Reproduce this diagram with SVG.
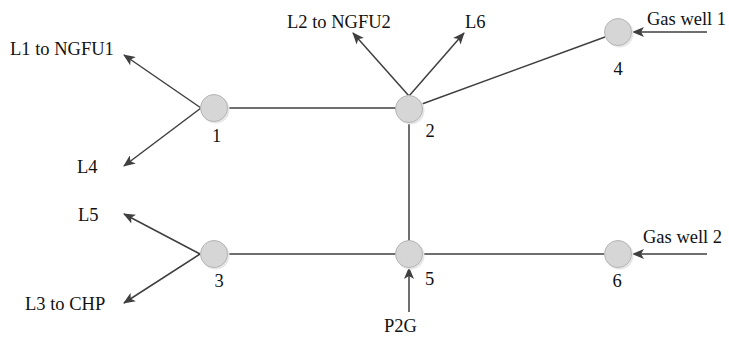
<svg xmlns="http://www.w3.org/2000/svg" width="729" height="337" viewBox="0 0 729 337">
<style>
.edge{stroke:#3f3f3f;stroke-width:1.5;fill:none}
.arr{stroke:#3f3f3f;stroke-width:1.5;fill:none;marker-end:url(#ah)}
.node{fill:#d6d6d6;stroke:#b5b5b5;stroke-width:1}
.sh{fill:#e6e6e6;stroke:none}
text{font-family:"Liberation Serif","Times New Roman",serif;font-size:18.5px;fill:#111}
.c{text-anchor:middle}
</style>
<defs>
<marker id="ah" viewBox="0 0 12 10" refX="11" refY="5" markerWidth="12" markerHeight="10" markerUnits="userSpaceOnUse" orient="auto">
<path d="M0,0 L12,5 L0,10 L3,5 Z" fill="#3f3f3f"/>
</marker>
</defs>
<rect width="729" height="337" fill="#fff"/>
<g id="connectors">
<line class="edge" x1="227" y1="108" x2="396" y2="108"/>
<line class="edge" x1="409" y1="122" x2="409" y2="241"/>
<line class="edge" x1="422" y1="104" x2="605" y2="37"/>
<line class="edge" x1="227" y1="254" x2="396" y2="254"/>
<line class="edge" x1="423" y1="254" x2="604" y2="254"/>
<line class="arr" x1="201" y1="108" x2="124" y2="55"/>
<line class="arr" x1="201" y1="108" x2="124" y2="166"/>
<line class="arr" x1="409" y1="96" x2="353" y2="33"/>
<line class="arr" x1="409" y1="96" x2="464" y2="33"/>
<line class="arr" x1="707" y1="32" x2="633" y2="32"/>
<line class="arr" x1="200" y1="254" x2="124" y2="214"/>
<line class="arr" x1="200" y1="254" x2="124" y2="303"/>
<line class="arr" x1="409" y1="312" x2="409" y2="268"/>
<line class="arr" x1="707" y1="254" x2="633" y2="254"/>
</g>
<g id="node1"><circle class="sh" cx="215.5" cy="109.5" r="14"/><circle class="node" cx="214" cy="108" r="13.5"/><text class="c" x="216.5" y="142">1</text></g>
<g id="node2"><circle class="sh" cx="410.5" cy="110.5" r="14"/><circle class="node" cx="409" cy="109" r="13.5"/><text class="c" x="430" y="137">2</text></g>
<g id="node3"><circle class="sh" cx="215.5" cy="255.5" r="14"/><circle class="node" cx="214" cy="254" r="13.5"/><text class="c" x="219" y="287">3</text></g>
<g id="node4"><circle class="sh" cx="619.5" cy="33.5" r="14"/><circle class="node" cx="618" cy="32" r="13.5"/><text class="c" x="618" y="75">4</text></g>
<g id="node5"><circle class="sh" cx="410.5" cy="255.5" r="14"/><circle class="node" cx="409" cy="254" r="13.5"/><text class="c" x="429.5" y="285">5</text></g>
<g id="node6"><circle class="sh" cx="619.5" cy="255.5" r="14"/><circle class="node" cx="618" cy="254" r="13.5"/><text class="c" x="617" y="287">6</text></g>
<g id="labels">
<text x="10" y="55">L1 to NGFU1</text>
<text x="77" y="173">L4</text>
<text x="78" y="221">L5</text>
<text x="25" y="310">L3 to CHP</text>
<text x="287" y="28">L2 to NGFU2</text>
<text x="465" y="28">L6</text>
<text x="647" y="25">Gas well 1</text>
<text x="643" y="243">Gas well 2</text>
<text class="c" x="400.5" y="332">P2G</text>
</g>
</svg>
